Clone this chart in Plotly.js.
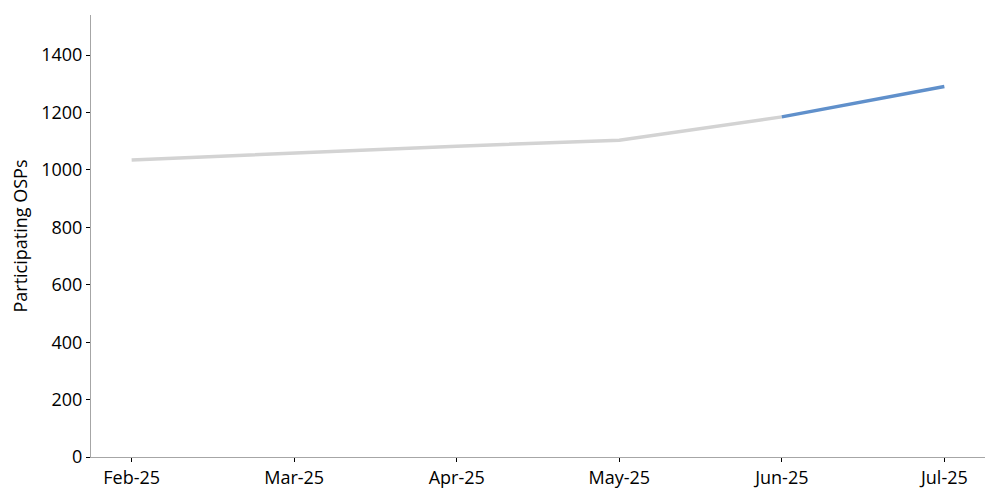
<!DOCTYPE html>
<html>
<head>
<meta charset="utf-8">
<script src="https://cdn.plot.ly/plotly-3.0.1.min.js"></script>
<style>html,body{margin:0;padding:0;background:#fff;}#chart{width:1000px;height:500px;}</style>
</head>
<body>
<div id="chart"></div>
<script>
const months = ["Feb-25", "Mar-25", "Apr-25", "May-25", "Jun-25", "Jul-25"];
const participatingOSPs = [1035, 1060, 1083, 1104, 1185, 1291];
const yTicks = [0, 200, 400, 600, 800, 1000, 1200, 1400];

const histMonths = months.slice(0, 5);
const histValues = participatingOSPs.slice(0, 5);
const recentMonths = months.slice(4);
const recentValues = participatingOSPs.slice(4);

const FONT = "Open Sans";
const FS = 18;
const traces = [
  {x: histMonths, y: histValues, type: "scatter", mode: "lines",
   line: {color: "#d3d3d3", width: 3.5}, hoverinfo: "x+y", showlegend: false},
  {x: recentMonths, y: recentValues, type: "scatter", mode: "lines",
   line: {color: "#6090cb", width: 3.5}, hoverinfo: "x+y", showlegend: false}
];

const layout = {
  width: 1000, height: 500,
  margin: {l: 91, r: 15, t: 15, b: 43},
  paper_bgcolor: "#ffffff", plot_bgcolor: "#ffffff",
  font: {family: FONT, size: FS, color: "#000"},
  xaxis: {
    type: "category", categoryorder: "array", categoryarray: months,
    range: [-0.25, 5.25], showgrid: false, zeroline: false,
    showline: true, linecolor: "#a6a6a6", linewidth: 1,
    ticks: "outside", ticklen: 4, tickcolor: "#000", tickwidth: 1,
    tickfont: {family: FONT, size: FS, color: "#000"}, automargin: false
  },
  yaxis: {
    range: [0, 1540], tickvals: yTicks, ticktext: yTicks.map(String),
    showgrid: false, zeroline: false,
    showline: true, linecolor: "#a6a6a6", linewidth: 1,
    ticks: "outside", ticklen: 4, tickcolor: "#000", tickwidth: 1,
    tickfont: {family: FONT, size: FS, color: "#000"},
    title: {text: "Participating OSPs", font: {family: FONT, size: FS, color: "#000"}, standoff: 8},
    automargin: false
  }
};

Plotly.newPlot("chart", traces, layout, {displayModeBar: false, staticPlot: true});
</script>
</body>
</html>
